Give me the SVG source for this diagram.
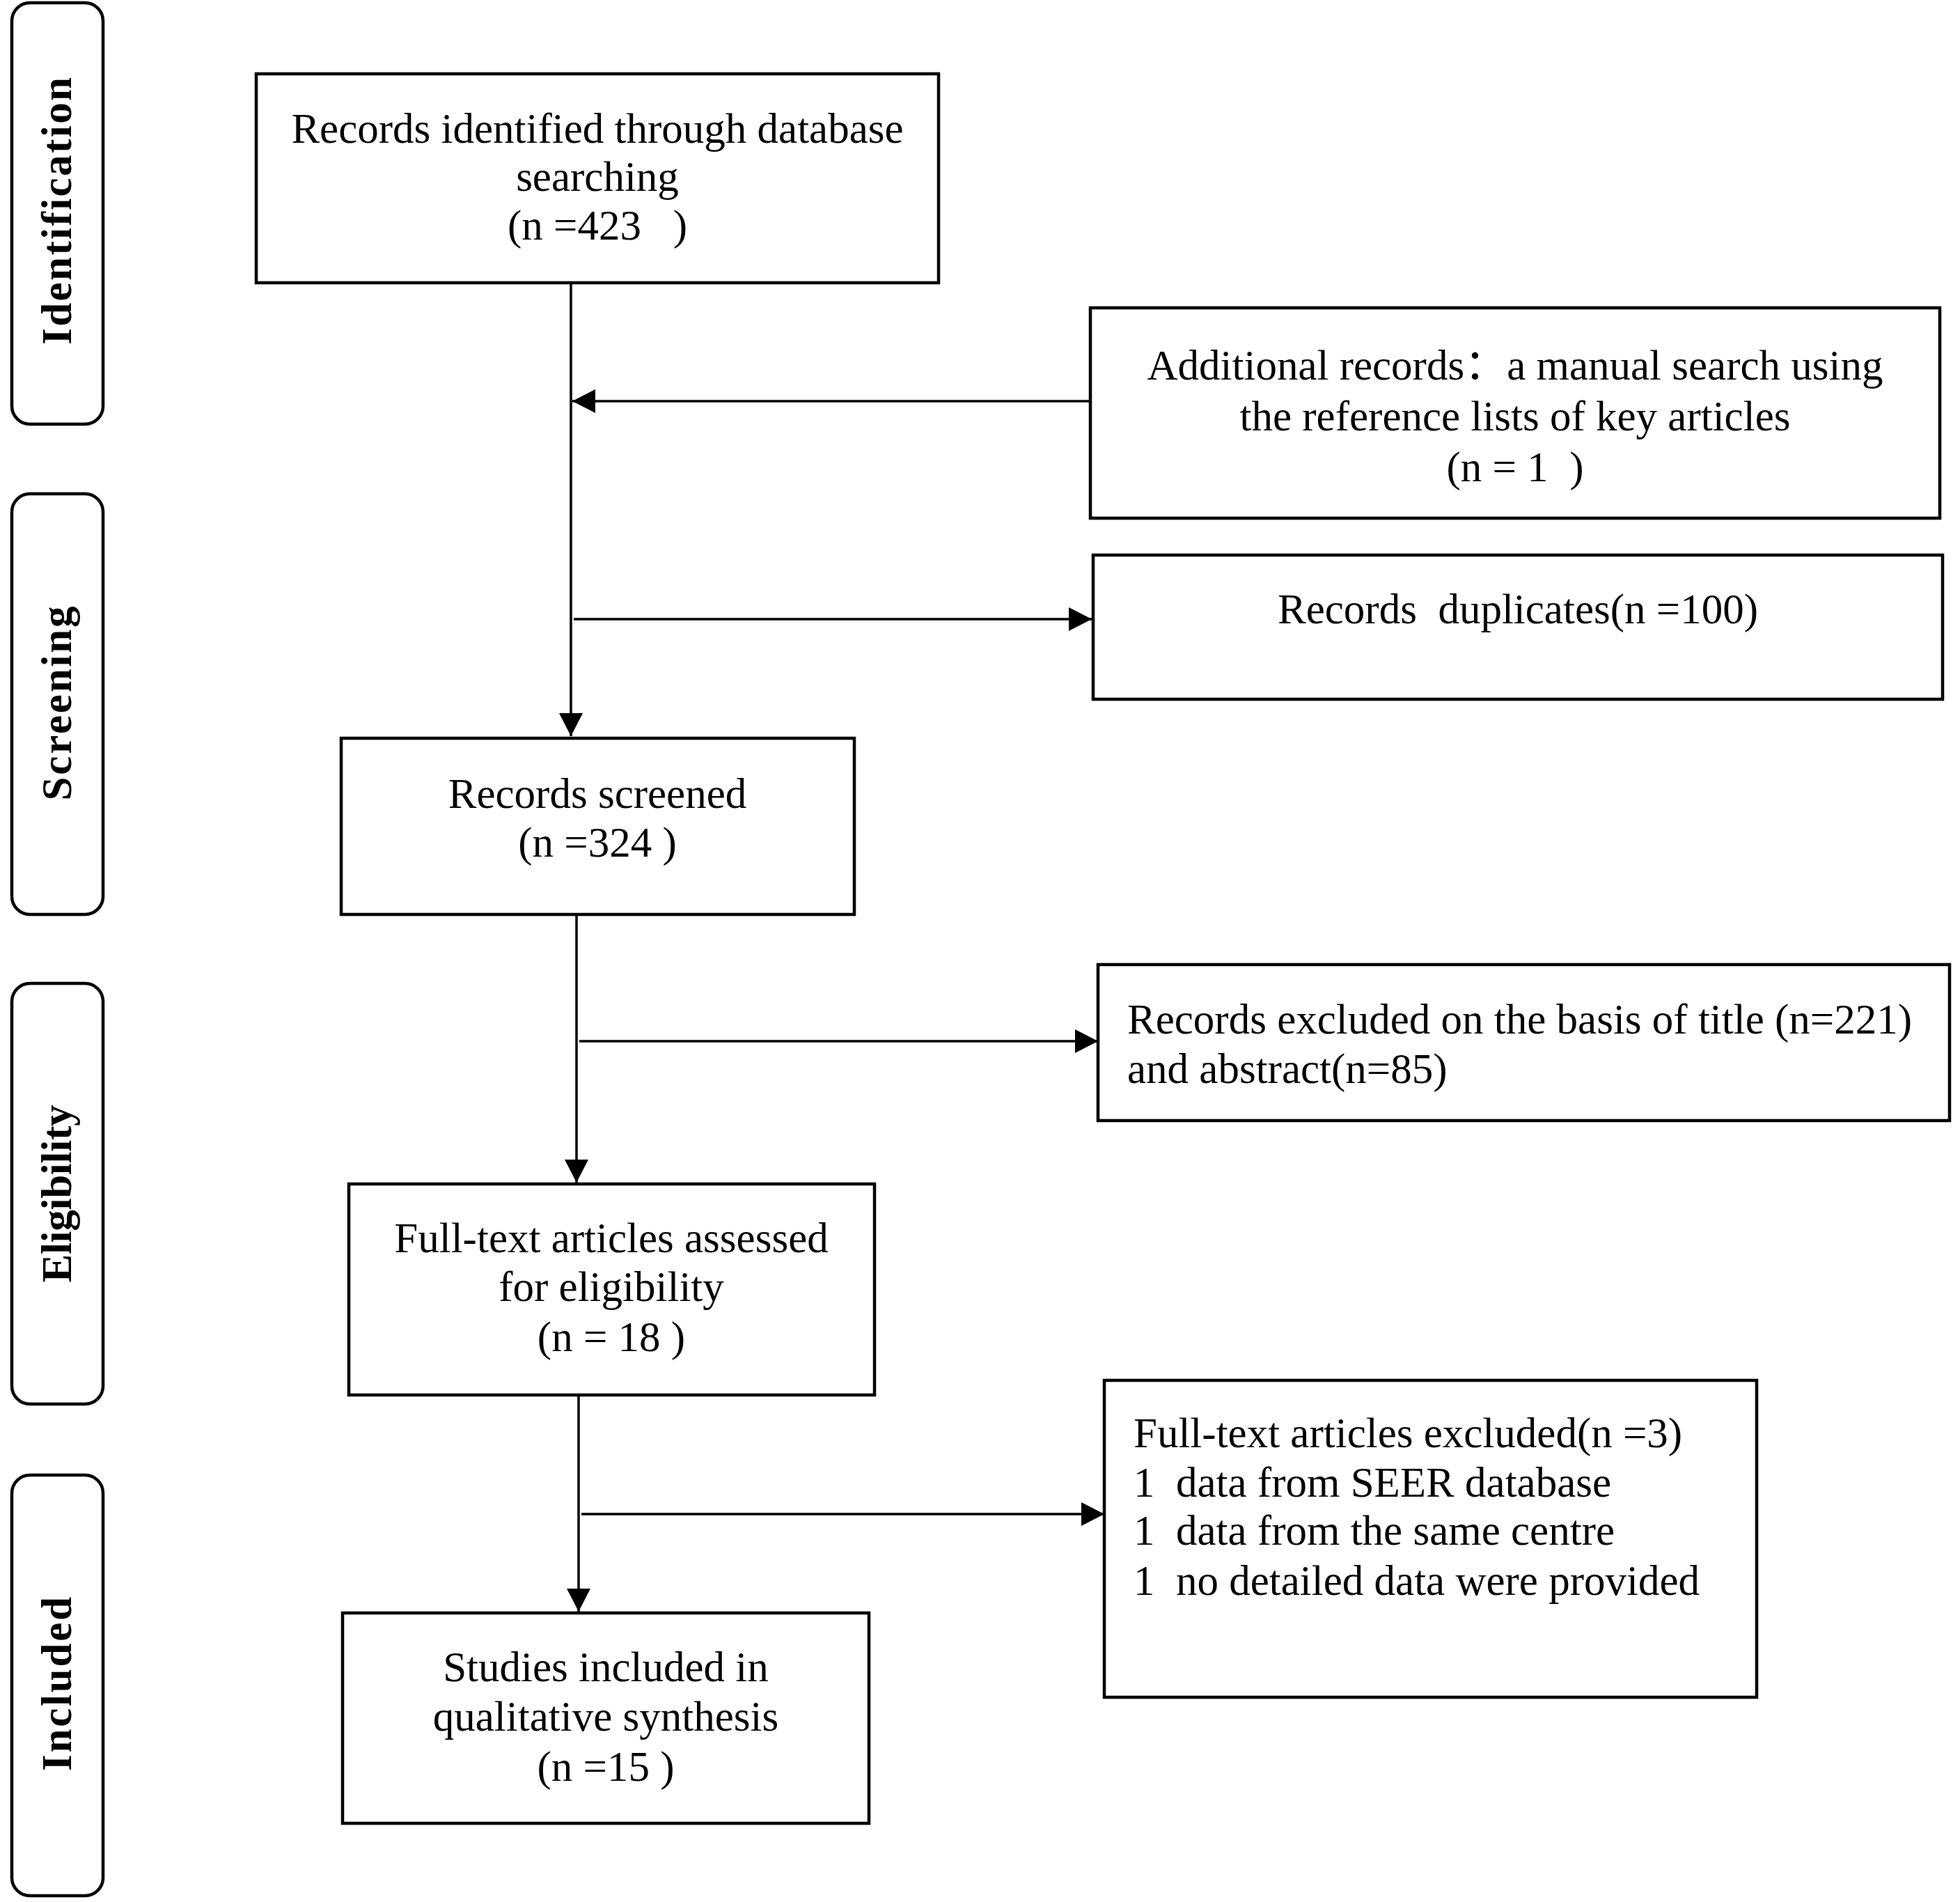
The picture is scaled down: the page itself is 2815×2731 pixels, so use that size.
<svg xmlns="http://www.w3.org/2000/svg" width="2815" height="2731" viewBox="0 0 2815 2731">
<defs>
<style>
.box{fill:#fff;stroke:#000;stroke-width:4.5}
.side{fill:#fff;stroke:#000;stroke-width:4.5}
.t{font-family:"Liberation Serif","Times New Roman","Noto Sans CJK SC",serif;font-size:61px;fill:#000}
.c{text-anchor:middle}
.lab{font-family:"Liberation Serif","Times New Roman",serif;font-size:61px;font-weight:bold;fill:#000;text-anchor:middle}
.ln{stroke:#000;stroke-width:3.5;fill:none}
.ar{marker-end:url(#ah)}
</style>
<marker id="ah" markerUnits="userSpaceOnUse" viewBox="0 0 33 34" markerWidth="33" markerHeight="34" refX="33" refY="17" orient="auto">
<path d="M0,0 L33,17 L0,34 Z" fill="#000"/>
</marker>
</defs>
<rect width="2815" height="2731" fill="#fff"/>

<g id="stage-identification">
<rect class="side" x="17" y="4" width="131" height="605" rx="26"/>
<text class="lab" transform="translate(102,303) rotate(-90)" textLength="384" lengthAdjust="spacing">Identification</text>
</g>
<g id="stage-screening">
<rect class="side" x="17" y="709" width="131" height="604" rx="26"/>
<text class="lab" transform="translate(102,1010) rotate(-90)" textLength="279" lengthAdjust="spacing">Screening</text>
</g>
<g id="stage-eligibility">
<rect class="side" x="17" y="1412" width="131" height="604" rx="26"/>
<text class="lab" transform="translate(102,1714) rotate(-90)" textLength="255" lengthAdjust="spacing">Eligibility</text>
</g>
<g id="stage-included">
<rect class="side" x="17" y="2118" width="131" height="604" rx="26"/>
<text class="lab" transform="translate(102,2418) rotate(-90)" textLength="250" lengthAdjust="spacing">Included</text>
</g>

<g id="connectors">
<line class="ln ar" x1="820" y1="406" x2="820" y2="1057"/>
<line class="ln ar" x1="1566" y1="576" x2="822" y2="576"/>
<line class="ln ar" x1="824" y1="889" x2="1568" y2="889"/>
<line class="ln ar" x1="828" y1="1313" x2="828" y2="1698"/>
<line class="ln ar" x1="832" y1="1495" x2="1577" y2="1495"/>
<line class="ln ar" x1="831" y1="2003" x2="831" y2="2314"/>
<line class="ln ar" x1="835" y1="2174" x2="1586" y2="2174"/>
</g>

<g id="identified">
<rect class="box" x="368" y="106" width="980" height="300"/>
<text class="t c" x="858" y="205">Records identified through database</text>
<text class="t c" x="858" y="274">searching</text>
<text class="t c" x="858" y="344">(n =423&#160;&#160;&#160;)</text>
</g>

<g id="additional">
<rect class="box" x="1566" y="442" width="1220" height="302"/>
<text class="t c" x="2176" y="545">Additional records：a manual search using</text>
<text class="t c" x="2176" y="618">the reference lists of key articles</text>
<text class="t c" x="2176" y="691">(n = 1&#160;&#160;)</text>
</g>

<g id="duplicates">
<rect class="box" x="1570" y="797" width="1220" height="207"/>
<text class="t c" x="2180" y="895">Records&#160;&#160;duplicates(n =100)</text>
</g>

<g id="screened">
<rect class="box" x="490" y="1060" width="737" height="253"/>
<text class="t c" x="858" y="1160">Records screened</text>
<text class="t c" x="858" y="1230">(n =324 )</text>
</g>

<g id="excluded-title">
<rect class="box" x="1577" y="1385" width="1223" height="224"/>
<text class="t" x="1619" y="1484">Records excluded on the basis of title (n=221)</text>
<text class="t" x="1619" y="1555">and abstract(n=85)</text>
</g>

<g id="fulltext">
<rect class="box" x="501" y="1700" width="755" height="303"/>
<text class="t c" x="878" y="1798">Full-text articles assessed</text>
<text class="t c" x="878" y="1868">for eligibility</text>
<text class="t c" x="878" y="1940">(n = 18 )</text>
</g>

<g id="fulltext-excluded">
<rect class="box" x="1586" y="1982" width="937" height="455"/>
<text class="t" x="1628" y="2078">Full-text articles excluded(n =3)</text>
<text class="t" x="1628" y="2149">1&#160;&#160;data from SEER database</text>
<text class="t" x="1628" y="2218">1&#160;&#160;data from the same centre</text>
<text class="t" x="1628" y="2290">1&#160;&#160;no detailed data were provided</text>
</g>

<g id="included">
<rect class="box" x="492" y="2316" width="756" height="302"/>
<text class="t c" x="870" y="2414">Studies included in</text>
<text class="t c" x="870" y="2485">qualitative synthesis</text>
<text class="t c" x="870" y="2557">(n =15 )</text>
</g>
</svg>
